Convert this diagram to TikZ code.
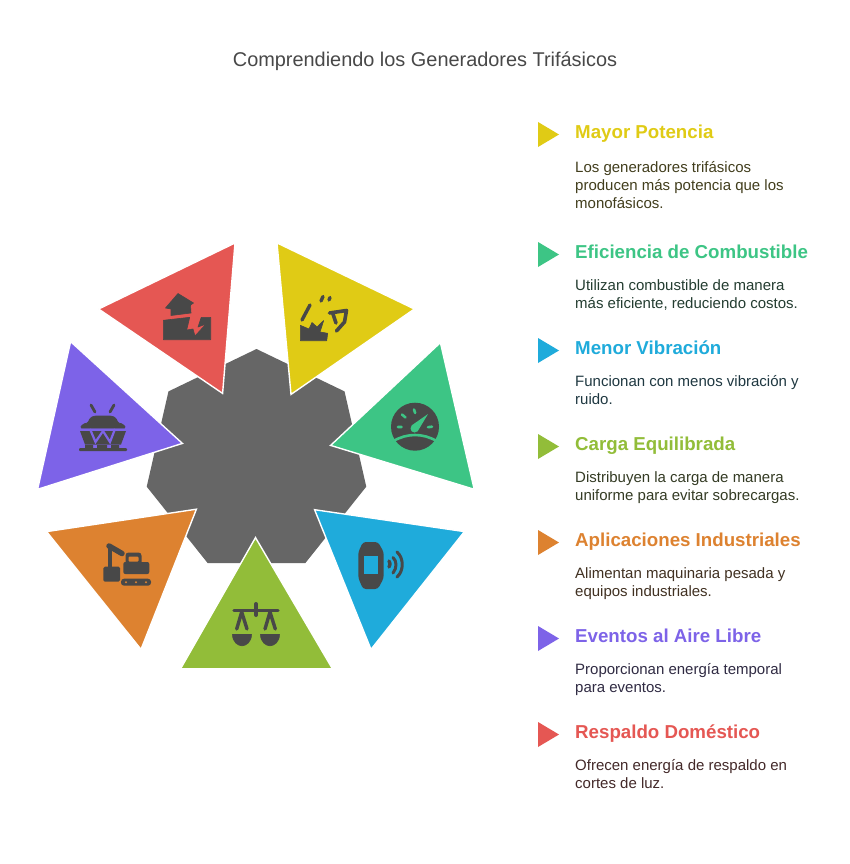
\documentclass[tikz,border=0pt]{standalone}
\usepackage{fontspec}
\setmainfont{Liberation Sans}
\usetikzlibrary{shapes.geometric}
\definecolor{hubgray}{HTML}{666666}
\definecolor{icongray}{HTML}{484848}
\definecolor{cred}{HTML}{E55753}
\definecolor{cyellow}{HTML}{E0CB15}
\definecolor{cgreen}{HTML}{3DC585}
\definecolor{cblue}{HTML}{1FABDB}
\definecolor{clime}{HTML}{92BD39}
\definecolor{corange}{HTML}{DD8230}
\definecolor{cpurple}{HTML}{7D63E8}
\tikzset{
  wedge/.style={draw=white, line width=1.4pt, line join=miter},
  headtext/.style={anchor=base west, inner sep=0pt, font=\fontsize{18.7}{22}\selectfont\bfseries},
  bodytext/.style={anchor=north west, inner sep=0pt, align=left, font=\fontsize{15}{18}\selectfont},
  icon/.style={fill=icongray, draw=icongray, line width=.6pt, line join=round},
  stroke/.style={draw=icongray, line cap=round, line join=round}
}
\begin{document}
\begin{tikzpicture}[x=1pt,y=-1pt]
 \useasboundingbox (0,0) rectangle (849,864);
 \fill[white] (0,0) rectangle (849,864);
 \node (title) [inner sep=0pt, text=icongray, font=\fontsize{19.9}{24}\selectfont] at (425,61) {Comprendiendo los Generadores Trifásicos};
 \node (hub) [regular polygon, regular polygon sides=7, minimum size=225.2pt, inner sep=0pt, fill=hubgray] at (256.5,461.6) {};
 % wedges
 \filldraw[wedge, fill=cred] (235,243) -- (98.6,309) -- (222.6,393.4) -- cycle;
 \filldraw[wedge, fill=cyellow] (277,242.9) -- (414.4,309) -- (291,394.4) -- cycle;
 \filldraw[wedge, fill=cgreen] (440.4,342.6) -- (474.2,489.3) -- (330.6,445.4) -- cycle;
 \filldraw[wedge, fill=cblue] (314.6,509.7) -- (464.4,531.6) -- (371,649.4) -- cycle;
 \filldraw[wedge, fill=clime] (255.5,537.6) -- (332.4,668.7) -- (180.6,668.7) -- cycle;
 \filldraw[wedge, fill=corange] (196.4,509.2) -- (46.6,531.6) -- (141,649.4) -- cycle;
 \filldraw[wedge, fill=cpurple] (70.6,341.6) -- (182.4,443.4) -- (37.6,489.3) -- cycle;
 % house on cracked ground
 \filldraw[icon] (178,293.5) -- (193.5,303) -- (190.5,305) -- (191,313) -- (171,315.5) -- (171,309) -- (165.5,308) -- cycle;
 \filldraw[icon] (163.3,320.3) -- (189.7,317.3) -- (186.7,330) -- (193,329) -- (195,336) -- (206,324) -- (198,327) -- (201.3,317.3) -- (210.7,317.3) -- (210.7,339.7) -- (163.3,339.7) -- cycle;
 % generator on a stand
 \draw[stroke, line width=2.8pt] (91,405) -- (95,412) (114,405) -- (110,412);
 \filldraw[icon, rounded corners=1.5pt] (80,428) -- (83,424) -- (88,423) -- (90,418) -- (94,416) -- (112,416) -- (116,418) -- (118,423) -- (123,424) -- (126,428) -- cycle;
 \fill[icongray] (80,431) -- (126,431) -- (121,444.5) -- (85,444.5) -- cycle;
 \draw[draw=cpurple, line width=2.2pt] (90,429) -- (95.5,442) -- (103,431) -- (110,442) -- (115,429);
 \fill[icongray] (85,445) rectangle (93,449) (97,445) rectangle (107,449) (111,445) rectangle (119,449);
 \fill[icongray, rounded corners=1pt] (79,448) rectangle (127,451);
 % burst and strokes
 \filldraw[icon] (300.3,325.3) -- (309,329) -- (312,322.5) -- (317,327) -- (323.7,320.5) -- (320,332) -- (327.7,333.3) -- (326.7,340.7) -- (300.3,340.7) -- cycle;
 \draw[stroke, line width=3.4pt] (302,320) -- (310,305) (321,301) -- (323,296.5) (329,300) -- (330,297.5);
 \draw[stroke, line width=3.6pt] (329.5,313) -- (346.5,310.5) -- (344.5,322) -- (336.5,331) (333,314) -- (336,323);
 % gauge
 \fill[icongray] (415,426.7) circle (24);
 \draw[draw=cgreen, line width=2.6pt, line cap=round] (398,427) -- (401.5,427) (402,414.5) -- (405.5,417.5) (414,409.5) -- (415.2,413) (432,426.7) -- (428,427.2);
 \fill[cgreen] (428,414) -- (411.5,425.5) -- (417.5,431.5) -- cycle;
 \fill[cgreen] (414.5,428.5) circle (4);
 \draw[draw=cgreen, line width=2.6pt] (393.5,441) .. controls (407,433) and (423,433) .. (436.5,441);
 % wristband
 \fill[icongray, rounded corners=3pt] (363,542) -- (378,542) -- (383.7,552) -- (383.7,578) -- (378,589) -- (363,589) -- (358.3,578) -- (358.3,552) -- cycle;
 \fill[cblue] (363.5,556) rectangle (378,573.5);
 \draw[stroke, line width=3.4pt] (389,561) .. controls (390.5,563) and (390.5,565) .. (389,567);
 \draw[stroke, line width=3pt] (393,557.5) .. controls (397,561) and (397,568) .. (393,573);
 \draw[stroke, line width=3pt] (397,552) .. controls (404,558) and (404,571) .. (397,577);
 % scales
 \draw[stroke, line width=3.4pt] (234,610.5) -- (278,610.5);
 \draw[stroke, line width=4pt] (256,604) -- (256,615);
 \draw[stroke, line width=3.4pt] (236.7,629) -- (241.7,612) -- (247,629);
 \draw[stroke, line width=3.4pt] (265,629) -- (270,612) -- (275.3,629);
 \filldraw[icon] (232.5,634.5) -- (251.5,634.5) .. controls (251.5,642) and (246,645.8) .. (242,645.8) .. controls (238,645.8) and (232.5,642) .. (232.5,634.5) -- cycle;
 \filldraw[icon] (260.5,634.5) -- (279.5,634.5) .. controls (279.5,642) and (274,645.8) .. (270,645.8) .. controls (266,645.8) and (260.5,642) .. (260.5,634.5) -- cycle;
 % excavator
 \draw[stroke, line width=3.6pt] (110,546) -- (110,568);
 \draw[stroke, line width=5.5pt] (109,546) -- (122,553.5);
 \fill[icongray, rounded corners=1.5pt] (103.3,566.7) rectangle (120,581.7);
 \fill[icongray, rounded corners=2pt] (123.3,562) rectangle (149.3,574);
 \fill[icongray, rounded corners=3pt] (125.5,552.5) rectangle (141.5,566);
 \fill[corange, rounded corners=1pt] (128.5,556.5) rectangle (138.5,561.5);
 \fill[icongray, rounded corners=3pt] (121,578.7) rectangle (151,585.7);
 \foreach \x in {126,136,146}
  \fill[corange] (\x,582.2) circle (1.2);
 % list on the right
 \foreach \name/\col/\y/\h/\b/\title/\desc in {
   power/cyellow/134.5/139/161/Mayor Potencia/{Los generadores trifásicos\\producen más potencia que los\\monofásicos.},
   fuel/cgreen/254.5/258/279/Eficiencia de Combustible/{Utilizan combustible de manera\\más eficiente, reduciendo costos.},
   vibra/cblue/350.5/354/375/Menor Vibración/{Funcionan con menos vibración y\\ruido.},
   load/clime/446.5/450/471/Carga Equilibrada/{Distribuyen la carga de manera\\uniforme para evitar sobrecargas.},
   indus/corange/542.5/546/567/Aplicaciones Industriales/{Alimentan maquinaria pesada y\\equipos industriales.},
   event/cpurple/638.5/642/663/Eventos al Aire Libre/{Proporcionan energía temporal\\para eventos.},
   home/cred/734.5/738/759/Respaldo Doméstico/{Ofrecen energía de respaldo en\\cortes de luz.}}
 {
  \fill[\col] (538,\y-12.5) -- (559,\y) -- (538,\y+12.5) -- cycle;
  \node (\name-head) [headtext, text=\col] at (575,\h) {\title};
  \node (\name-body) [bodytext, text=\col!20!black!90!white] at (575,\b) {\desc};
 }
\end{tikzpicture}
\end{document}
